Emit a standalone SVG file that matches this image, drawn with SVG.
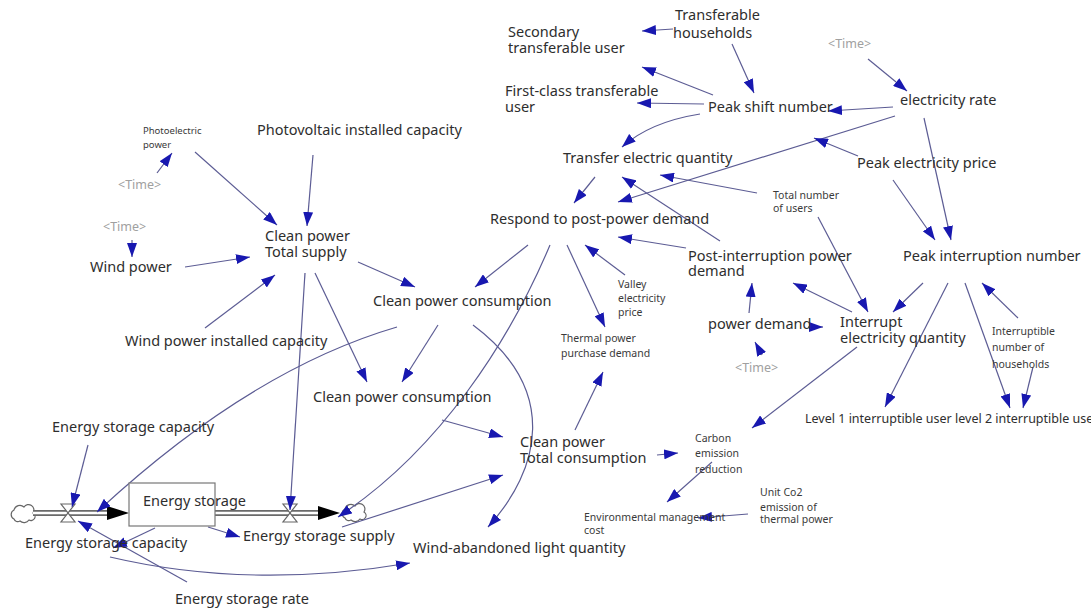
<svg xmlns="http://www.w3.org/2000/svg" width="1091" height="608" viewBox="0 0 1091 608">
<style>
.t{font-family:"Noto Sans","Liberation Sans",sans-serif;font-size:14.5px;fill:#2e2e2e}
.s{font-family:"Noto Sans","Liberation Sans",sans-serif;font-size:10.5px;fill:#3a3a3a}
.g{font-family:"Noto Sans","Liberation Sans",sans-serif;font-size:12.5px;fill:#a0a0a0}
.c{fill:none;stroke:#5c5c94;stroke-width:1.2;marker-end:url(#ah)}
.pipeo{fill:none;stroke:#6a6a6a;stroke-width:6}
.pipei{fill:none;stroke:#fff;stroke-width:2.6}
.valve{fill:#fff;stroke:#666;stroke-width:1.2}
.cloud{fill:#fff;stroke:#666;stroke-width:1.2}
</style>
<defs>
<marker id="ah" viewBox="0 0 14 10" refX="14" refY="5" markerWidth="14" markerHeight="10" markerUnits="userSpaceOnUse" orient="auto"><path d="M0,0 L14,5 L0,10 z" fill="#1818b0"/></marker>
<marker id="fa" viewBox="0 0 22 14" refX="22" refY="7" markerWidth="22" markerHeight="14" markerUnits="userSpaceOnUse" orient="auto"><path d="M0,0 L22,7 L0,14 z" fill="#000"/></marker>
</defs>
<rect width="1091" height="608" fill="#fff"/>

<g id="flows">
<path class="cloud" d="M14,519 a5,5 0 0 1 0,-9 a6,6 0 0 1 10,-3 a5,5 0 0 1 9,6 a4,4 0 0 1 -4,7 a6,6 0 0 1 -9,1 a4,4 0 0 1 -6,-2 z"/>
<path class="pipeo" d="M33,513 H108"/><path class="pipei" d="M33,513 H108"/>
<path d="M106,513 H129" stroke="none" fill="none" marker-end="url(#fa)"/>
<polygon class="valve" points="61,504 75,504 61,522 75,522"/>
<path class="pipeo" d="M215,513 H318"/><path class="pipei" d="M215,513 H318"/>
<path d="M316,513 H340" stroke="none" fill="none" marker-end="url(#fa)"/>
<polygon class="valve" points="283,504 297,504 283,522 297,522"/>
<path class="cloud" d="M345,518 a5,5 0 0 1 0,-9 a6,6 0 0 1 10,-3 a5,5 0 0 1 9,6 a4,4 0 0 1 -4,7 a6,6 0 0 1 -9,1 a4,4 0 0 1 -6,-2 z"/>
</g>

<g id="connectors">
<path class="c" d="M673,29 L642,31"/>
<path class="c" d="M732,44 L754,93"/>
<path class="c" d="M713,95 L642,67"/>
<path class="c" d="M704,104 L637,103"/>
<path class="c" d="M700,114 Q650,122 622,147"/>
<path class="c" d="M868,59 L907,91"/>
<path class="c" d="M893,107 L828,111"/>
<path class="c" d="M895,116 L618,202"/>
<path class="c" d="M858,156 L814,138"/>
<path class="c" d="M924,118 L951,240"/>
<path class="c" d="M893,180 L935,240"/>
<path class="c" d="M757,193 L660,175"/>
<path class="c" d="M818,217 L868,312"/>
<path class="c" d="M720,241 L622,177"/>
<path class="c" d="M686,248 L618,237"/>
<path class="c" d="M595,177 L574,203"/>
<path class="c" d="M528,245 L475,287"/>
<path class="c" d="M550,245 C510,340 440,450 338,517"/>
<path class="c" d="M567,245 L605,327"/>
<path class="c" d="M625,275 L585,245"/>
<path class="c" d="M473,325 C560,390 540,470 488,527"/>
<path class="c" d="M358,262 L415,287"/>
<path class="c" d="M315,273 L367,382"/>
<path class="c" d="M305,273 L290,510"/>
<path class="c" d="M438,325 L402,382"/>
<path class="c" d="M397,327 Q250,370 97,512"/>
<path class="c" d="M88,445 L72,507"/>
<path class="c" d="M187,582 L78,521"/>
<path class="c" d="M155,528 L113,548"/>
<path class="c" d="M208,527 L240,537"/>
<path class="c" d="M110,557 Q250,590 410,563"/>
<path class="c" d="M342,527 L503,475"/>
<path class="c" d="M442,420 L503,437"/>
<path class="c" d="M575,430 L603,372"/>
<path class="c" d="M657,455 L678,453"/>
<path class="c" d="M857,347 L752,428"/>
<path class="c" d="M712,462 L667,502"/>
<path class="c" d="M748,514 L698,518"/>
<path class="c" d="M749,313 L752,283"/>
<path class="c" d="M762,355 L755,342"/>
<path class="c" d="M808,327 L823,327"/>
<path class="c" d="M852,312 L793,283"/>
<path class="c" d="M923,283 L893,312"/>
<path class="c" d="M948,283 L885,407"/>
<path class="c" d="M965,283 L1010,408"/>
<path class="c" d="M1018,318 L982,283"/>
<path class="c" d="M1033,367 L1023,408"/>
<path class="c" d="M195,152 L277,225"/>
<path class="c" d="M157,173 L172,153"/>
<path class="c" d="M313,155 L307,226"/>
<path class="c" d="M132,240 L132,257"/>
<path class="c" d="M185,267 L250,257"/>
<path class="c" d="M205,328 L275,275"/>
</g>

<g id="n_secondary"><text class="t" x="508" y="37">Secondary</text><text class="t" x="508" y="53">transferable user</text></g>
<g id="n_transferable"><text class="t" x="675" y="20">Transferable</text><text class="t" x="673" y="38">households</text></g>
<g id="n_firstclass"><text class="t" x="505" y="96">First-class transferable</text><text class="t" x="505" y="112">user</text></g>
<g id="n_peakshift"><text class="t" x="708" y="112">Peak shift number</text></g>
<g id="n_time1"><text class="g" x="828" y="48">&lt;Time&gt;</text></g>
<g id="n_elecrate"><text class="t" x="900" y="105">electricity rate</text></g>
<g id="n_transferq"><text class="t" x="563" y="163">Transfer electric quantity</text></g>
<g id="n_peakprice"><text class="t" x="857" y="168">Peak electricity price</text></g>
<g id="n_totalusers"><text class="s" x="773" y="199">Total number</text><text class="s" x="773" y="212">of users</text></g>
<g id="n_respond"><text class="t" x="490" y="224">Respond to post-power demand</text></g>
<g id="n_postint"><text class="t" x="688" y="261">Post-interruption power</text><text class="t" x="688" y="276">demand</text></g>
<g id="n_peakint"><text class="t" x="903" y="261">Peak interruption number</text></g>
<g id="n_photoelec"><text class="s" x="143" y="134" style="font-size:9.5px">Photoelectric</text><text class="s" x="143" y="148" style="font-size:9.5px">power</text></g>
<g id="n_pvcap"><text class="t" x="257" y="135">Photovoltaic installed capacity</text></g>
<g id="n_time2"><text class="g" x="118" y="189">&lt;Time&gt;</text></g>
<g id="n_time3"><text class="g" x="103" y="231">&lt;Time&gt;</text></g>
<g id="n_windpower"><text class="t" x="90" y="272">Wind power</text></g>
<g id="n_totalsupply"><text class="t" x="265" y="241">Clean power</text><text class="t" x="265" y="257">Total supply</text></g>
<g id="n_cpc1"><text class="t" x="373" y="306">Clean power consumption</text></g>
<g id="n_valley"><text class="s" x="618" y="288">Valley</text><text class="s" x="618" y="302">electricity</text><text class="s" x="618" y="316">price</text></g>
<g id="n_thermal"><text class="s" x="561" y="342">Thermal power</text><text class="s" x="561" y="357">purchase demand</text></g>
<g id="n_powerdemand"><text class="t" x="708" y="329">power demand</text></g>
<g id="n_interrupt"><text class="t" x="840" y="327">Interrupt</text><text class="t" x="840" y="343">electricity quantity</text></g>
<g id="n_inthouse"><text class="s" x="992" y="335">Interruptible</text><text class="s" x="992" y="351">number of</text><text class="s" x="992" y="368">households</text></g>
<g id="n_time4"><text class="g" x="735" y="372">&lt;Time&gt;</text></g>
<g id="n_windcap"><text class="t" x="125" y="346">Wind power installed capacity</text></g>
<g id="n_cpc2"><text class="t" x="313" y="402">Clean power consumption</text></g>
<g id="n_level"><text class="t" x="805" y="423" style="font-size:12.5px">Level 1 interruptible user level 2 interruptible user</text></g>
<g id="n_escap1"><text class="t" x="52" y="432">Energy storage capacity</text></g>
<g id="n_totalcons"><text class="t" x="520" y="447">Clean power</text><text class="t" x="520" y="463">Total consumption</text></g>
<g id="n_carbon"><text class="s" x="695" y="442">Carbon</text><text class="s" x="695" y="457">emission</text><text class="s" x="695" y="473">reduction</text></g>
<g id="n_unitco2"><text class="s" x="760" y="496">Unit Co2</text><text class="s" x="760" y="511">emission of</text><text class="s" x="760" y="523">thermal power</text></g>
<g id="n_envcost"><text class="s" x="584" y="521">Environmental management</text><text class="s" x="584" y="534">cost</text></g>
<g id="n_storage"><rect x="129" y="483" width="86" height="43" fill="#fff" stroke="#777" stroke-width="1.2"/><text class="t" x="143" y="506">Energy storage</text></g>
<g id="n_escap2"><text class="t" x="25" y="548">Energy storage capacity</text></g>
<g id="n_supply"><text class="t" x="243" y="541">Energy storage supply</text></g>
<g id="n_windab"><text class="t" x="413" y="553">Wind-abandoned light quantity</text></g>
<g id="n_rate"><text class="t" x="175" y="604">Energy storage rate</text></g>
</svg>
